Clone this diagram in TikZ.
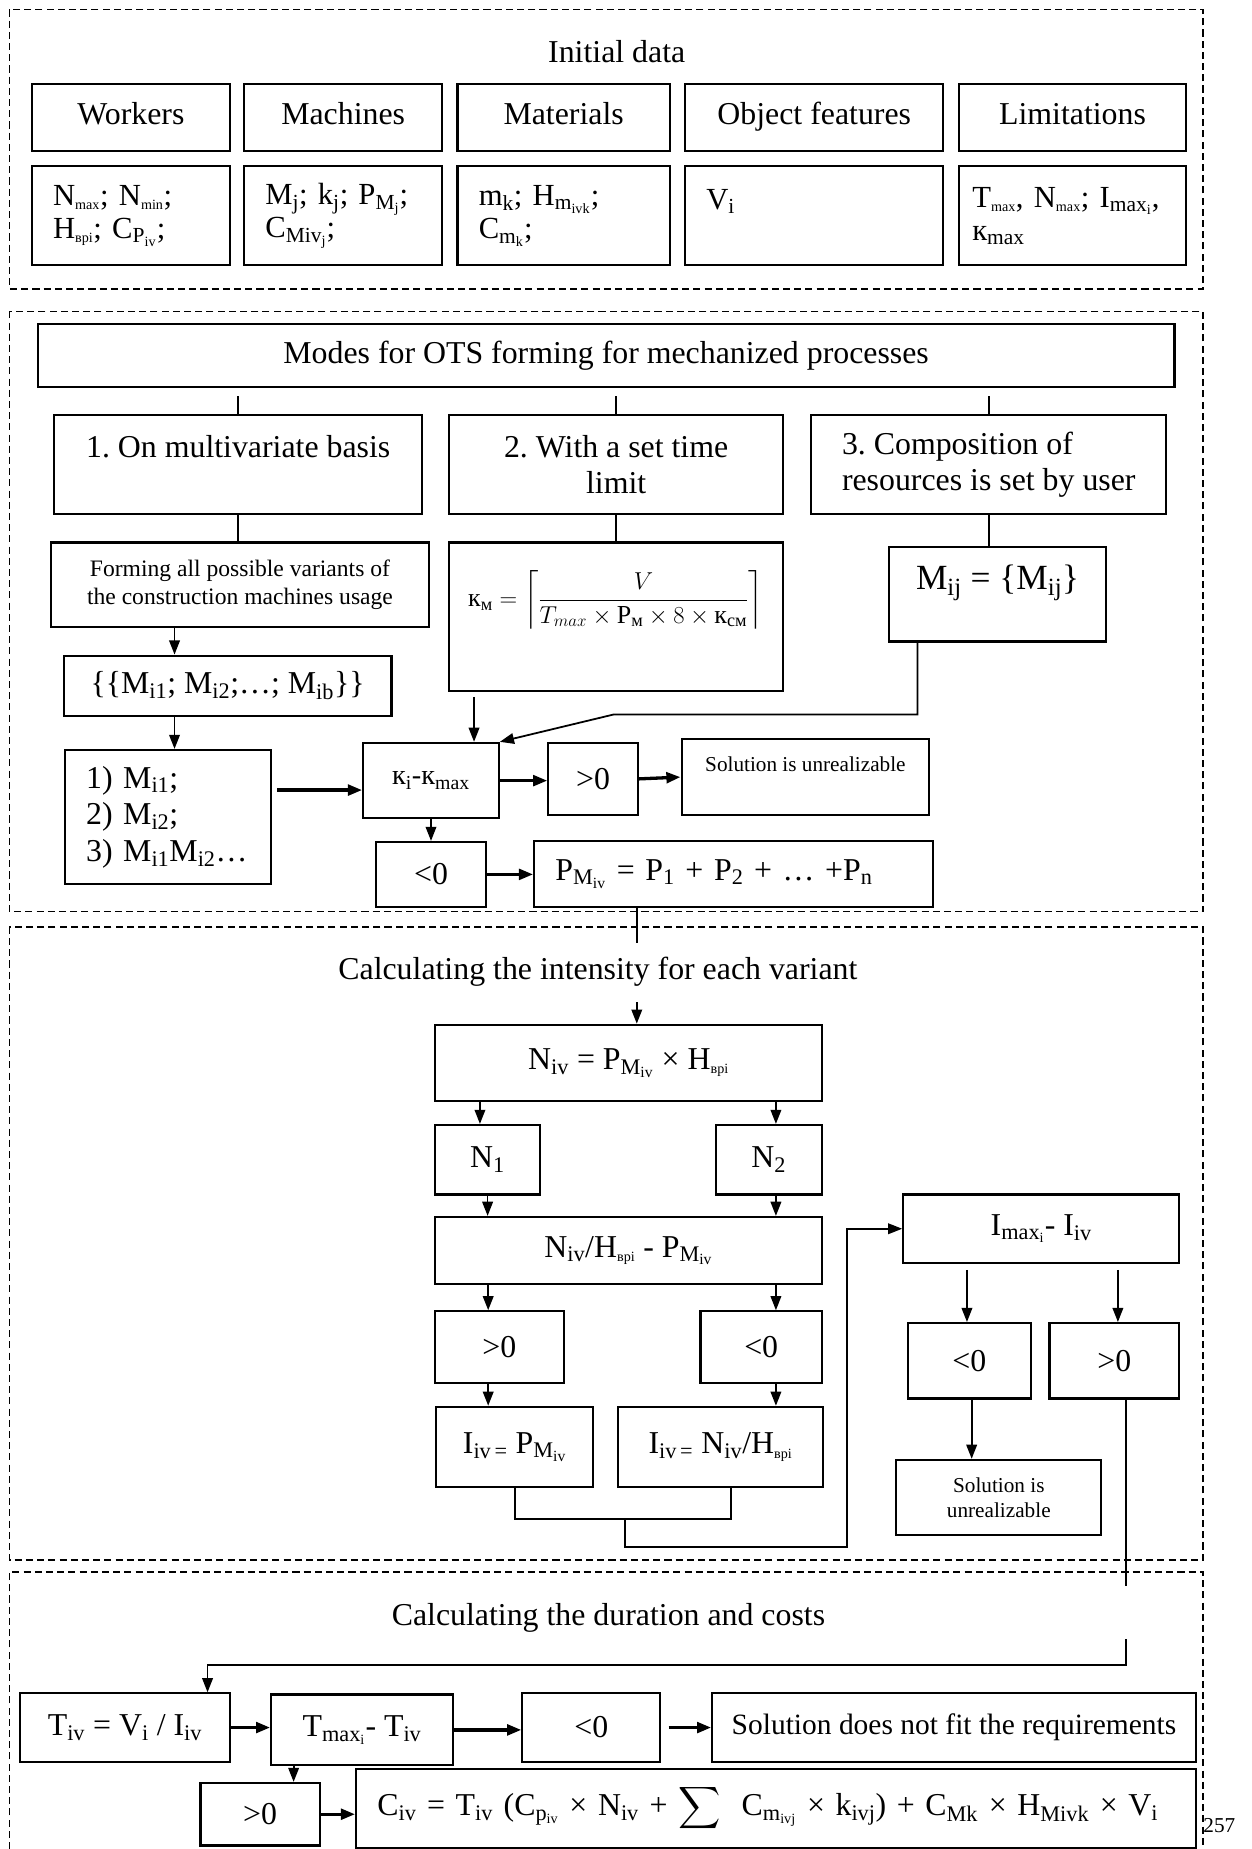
\documentclass[tikz,border=0pt]{standalone}
\usepackage{amsmath}
\usepackage{fontspec}
\setmainfont{Liberation Serif}
\usetikzlibrary{arrows.meta}
\newcommand\sbs[1]{\textsubscript{#1}}
\newcommand\tsb[1]{\textsubscript{\fontsize{12}{13}\selectfont #1}}
\frenchspacing

\begin{document}
\begin{tikzpicture}[x=1pt, y=-1pt,
  dframe/.style={line width=1.3pt, dash pattern=on 6pt off 3.5pt},
  box/.style={draw, line width=1.8pt, inner sep=0pt, align=center, font=\fontsize{27}{31}\selectfont},
  bx/.style 2 args={box, minimum width=#1pt, minimum height=#2pt},
  lft/.style={text width=#1pt, align=left},
  hd/.style={text height=19pt, text depth=7pt},
  val/.style={font=\fontsize{26}{28}\selectfont},
  ttl/.style={font=\fontsize{27}{31}\selectfont},
  ln/.style={line width=1.5pt},
  arr/.style={ln, -{Triangle[length=12pt, width=9pt]}},
  harr/.style={arr, line width=2.8pt}]
\useasboundingbox (0,0) rectangle (1061,1568);

\draw[dframe] (8,8) rectangle (1020,245);
\node[ttl] (init) at (523,44) {Initial data};
\node[bx={168}{57}, hd] (hw) at (111,99.5) {Workers};
\node[bx={168}{57}, hd] (hm) at (291,99.5) {Machines};
\node[bx={180}{57}, hd] (hmt) at (478,99.5) {Materials};
\node[bx={219}{57}, hd] (ho) at (690.5,99.5) {Object features};
\node[bx={193}{57}, hd] (hl) at (909.5,99.5) {Limitations};
\node[bx={168}{84}, lft=132, val] (vw) at (111,183) {N\tsb{max}; N\tsb{min};\\H\tsb{врi}; C\sbs{P\tsb{iv}};};
\node[bx={168}{84}, lft=132, val] (vm) at (291,183) {M\sbs{j}; k\sbs{j}; P\sbs{M\tsb{j}};\\C\sbs{Miv\tsb{j}};};
\node[bx={180}{84}, lft=144, val] (vmt) at (478,183) {m\sbs{k}; H\sbs{m\tsb{ivk}};\\C\sbs{m\tsb{k}};};
\node[bx={219}{84}, lft=183, val] (vo) at (690.5,183) {V\sbs{i}\\~};
\node[bx={193}{84}, lft=170, val] (vl) at (909.5,183) {T\tsb{max}, N\tsb{max}; I\sbs{max\tsb{i}},\\к\sbs{max}};

\draw[dframe] (8,264) rectangle (1020,773);
\node[bx={964}{53}] (modes) at (514,301.5) {Modes for OTS forming for mechanized processes};
\node[bx={312}{84}] (b1) at (202,394) {1. On multivariate basis\\~};
\node[bx={283}{84}] (b2) at (522.5,394) {2. With a set time\\limit};
\node[bx={301}{84}, align=left] (b3) at (838.5,394) {3. Composition of\\resources is set by user};
\node[bx={321}{72}, font=\fontsize{20}{24}\selectfont] (forming) at (203.5,496) {Forming all possible variants of\\the construction machines usage};
\node[bx={283}{126}] (fbox) at (522.5,523) {};
\node (fml) at (522,509) {\fontsize{22}{26}\selectfont$\text{к}_{\text{м}} = \left\lceil\dfrac{V}{T_{max}\times\text{Р}_{\text{м}}\times 8\times\text{к}_{\text{см}}}\right\rceil$};
\node[bx={184}{80}] (mbox) at (846,504) {};
\node[font=\fontsize{30}{34}\selectfont] (mtx) at (846,494) {M\sbs{ij} = \{M\sbs{ij}\}};
\node[bx={278}{51}] (lst1) at (193,581.5) {\{\{M\sbs{i1}; M\sbs{i2};…; M\sbs{ib}\}\}};
\node[bx={175}{114}, lft=139] (lst2) at (142.5,693) {1) M\sbs{i1};\\2) M\sbs{i2};\\3) M\sbs{i1}M\sbs{i2}…};
\node[bx={115}{64}, font=\fontsize{24}{28}\selectfont] (ki) at (365.5,662) {к\sbs{i}-к\sbs{max}};
\node[bx={76}{61}] (gt1) at (503,660.5) {>0};
\node[bx={210}{64}, font=\fontsize{18}{22}\selectfont] (sol1) at (683,659) {Solution is unrealizable\\~};
\node[bx={93}{55}] (lt1) at (365.5,741.5) {<0};
\node[bx={338}{56}, lft=302] (pm) at (622,741) {P\sbs{M\sbs{iv}} = P\sbs{1} + P\sbs{2} + … +P\sbs{n}};
\coordinate (mk) at (520,606);
\coordinate (c1) at (540,800);

\draw[ln, shorten <=7pt] (modes.south -| b1.north) -- (b1.north);
\draw[ln, shorten <=7pt] (modes.south -| b2.north) -- (b2.north);
\draw[ln, shorten <=7pt] (modes.south -| b3.north) -- (b3.north);
\draw[ln] (b1.south) -- (b1.south |- forming.north);
\draw[ln] (b2.south) -- (fbox.north);
\draw[ln] (b3.south) -- (b3.south |- mbox.north);
\draw[arr] ([xshift=-55.5pt]forming.south) -- ([xshift=-55.5pt]forming.south |- lst1.north);
\draw[arr] ([xshift=-45pt]lst1.south) -- ([xshift=-45pt]lst1.south |- lst2.north);
\draw[harr] ([xshift=-72pt, yshift=-8pt]ki.west) -- ([yshift=-8pt]ki.west);
\draw[arr, shorten <=4pt] ([xshift=-120.5pt]fbox.south) -- ([xshift=-120.5pt]fbox.south |- ki.north);
\draw[arr] ([xshift=-68pt]mbox.south) |- (mk) -- (ki.north east);
\draw[harr] (ki.east) -- (ki.east -| gt1.west);
\draw[harr] (gt1.east) -- (sol1.west);
\draw[arr] (ki.south) -- (ki.south |- lt1.north);
\draw[harr] (lt1.east) -- (lt1.east -| pm.west);
\draw[ln] ([xshift=-82pt]pm.south) -- (c1);

\draw[dframe] (8,786) rectangle (1020,1323);
\node[ttl] (int) at (507,824) {Calculating the intensity for each variant};
\node[bx={328}{65}] (niv) at (533,901.5) {N\sbs{iv} = P\sbs{M\sbs{iv}} × H\tsb{врi}};
\node[bx={89}{59}] (n1) at (413.5,983.5) {N\sbs{1}};
\node[bx={90}{59}] (n2) at (652,983.5) {N\sbs{2}};
\node[bx={328}{57}] (nh) at (533,1060.5) {N\sbs{iv}/H\tsb{врi} - P\sbs{M\sbs{iv}}};
\node[bx={109}{61}] (gt2) at (423.5,1142.5) {>0};
\node[bx={103}{61}] (lt2) at (645.5,1142.5) {<0};
\node[bx={133}{68}] (iv1) at (436.5,1227) {I\sbs{iv\,=} P\sbs{M\sbs{iv}}};
\node[bx={174}{68}] (iv2) at (611,1227) {I\sbs{iv\,=} N\sbs{iv}/H\tsb{врi}};
\node[bx={234}{58}] (imax) at (883,1042) {I\sbs{max\tsb{i}}- I\sbs{iv}};
\node[bx={104}{64}] (lt3) at (822,1154) {<0};
\node[bx={110}{64}] (gt3) at (945,1154) {>0};
\node[bx={174}{64}, font=\fontsize{18}{21}\selectfont] (sol2) at (847,1270) {Solution is\\unrealizable};
\coordinate (c2) at (540,850);
\coordinate (jn) at (530,1288);
\coordinate (c3) at (955,1345);

\draw[arr] (c2) -- (c2 |- niv.north);
\draw[arr] ([xshift=-126pt]niv.south) -- ([xshift=-126pt]niv.south |- n1.north);
\draw[arr] ([xshift=125pt]niv.south) -- ([xshift=125pt]niv.south |- n2.north);
\draw[arr] (n1.south) -- (n1.south |- nh.north);
\draw[arr] ([xshift=6pt]n2.south) -- ([xshift=6pt]n2.south |- nh.north);
\draw[arr] ([xshift=-119pt]nh.south) -- ([xshift=-119pt]nh.south |- gt2.north);
\draw[arr] ([xshift=125pt]nh.south) -- ([xshift=125pt]nh.south |- lt2.north);
\draw[arr] ([xshift=-9.5pt]gt2.south) -- ([xshift=-9.5pt]gt2.south |- iv1.north);
\draw[arr] ([xshift=12.5pt]lt2.south) -- ([xshift=12.5pt]lt2.south |- iv2.north);
\draw[ln] (iv1.south) |- (jn) -| ([xshift=9pt]iv2.south);
\draw[arr] (jn) -- (530,1312) -- (718,1312) |- (imax.west);
\draw[arr, shorten <=5pt] ([xshift=-63pt]imax.south) -- ([xshift=-63pt]imax.south |- lt3.north);
\draw[arr, shorten <=5pt] ([xshift=65pt]imax.south) -- ([xshift=65pt]imax.south |- gt3.north);
\draw[arr] ([xshift=2pt]lt3.south) -- ([xshift=2pt]lt3.south |- sol2.north);
\draw[ln] ([xshift=10pt]gt3.south) -- (c3);

\draw[dframe] (8,1568) |- (1020,1333) -- (1020,1568);
\node[ttl] (dur) at (516,1372) {Calculating the duration and costs};
\node[bx={178}{58}] (tiv) at (106,1465) {T\sbs{iv} = V\sbs{i} / I\sbs{iv}};
\node[bx={154}{60}] (tmx) at (307,1467) {T\sbs{max\tsb{i}}- T\sbs{iv}};
\node[bx={117}{58}] (lt4) at (501.5,1465) {<0};
\node[bx={410}{58}, font=\fontsize{25}{29}\selectfont] (sol3) at (809,1465) {Solution does not fit the requirements};
\node[bx={101}{53}] (gt4) at (220.5,1538.5) {>0};
\node[bx={712}{67}, lft=676] (cbox) at (658,1533.5) {C\sbs{iv} = T\sbs{iv} (C\sbs{p\tsb{iv}} × N\sbs{iv} + $\displaystyle\sum$ \ C\sbs{m\tsb{ivj}} × k\sbs{ivj}) + C\sbs{Mk} × H\sbs{Mivk} × V\sbs{i}};
\node[anchor=west, font=\fontsize{18}{20}\selectfont] (pg) at (1017,1548) {257};
\coordinate (c4) at (955,1390);

\draw[arr] (c4) -- (955,1412) -| ([xshift=70pt]tiv.north);
\draw[harr] (tiv.east) -- (tiv.east -| tmx.west);
\draw[harr] (tmx.east) -- (tmx.east -| lt4.west);
\draw[harr, shorten <=6pt] (lt4.east) -- (sol3.west);
\draw[arr] ([xshift=-58pt]tmx.south) -- ([xshift=-58pt]tmx.south |- gt4.north);
\draw[harr] (gt4.east) -- (gt4.east -| cbox.west);
\end{tikzpicture}
\end{document}
